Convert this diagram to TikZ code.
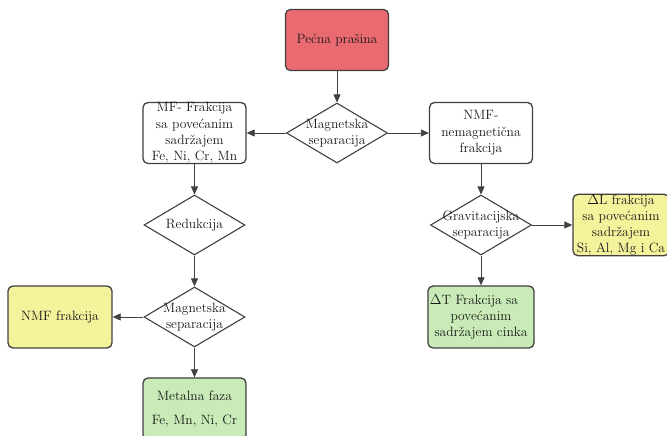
\documentclass[tikz,border=0pt]{standalone}
\usetikzlibrary{
    arrows.meta,
    shapes.geometric % diamond
}

\definecolor{pecred}{HTML}{EA6A71}
\definecolor{fracyellow}{HTML}{F5F29C}
\definecolor{fracgreen}{HTML}{C8EBB8}
\definecolor{edgegray}{HTML}{404040}

\begin{document}
\begin{tikzpicture}[x=1pt, y=1pt,
    every node/.style={font=\rmfamily\fontsize{13.5}{16.3}\selectfont, text=black!90},
    box/.style={draw=edgegray, line width=1.3pt, rounded corners=5pt, fill=white,
        align=center, minimum width=103pt, minimum height=61pt,
        inner xsep=2pt, inner ysep=0pt},
    decision/.style={diamond, draw=edgegray, line width=1.1pt, fill=white,
        aspect=1.7, inner sep=-6pt, minimum width=101pt, minimum height=60pt,
        align=center},
    flow/.style={draw=black!75, line width=0.8pt, -{Triangle[length=8pt,width=7pt]}}
]
    \useasboundingbox (0,0) rectangle (667,436);

    \node[box, fill=pecred] (pec) at (337,396) {Pećna prašina};
    \node[decision] (mag1) at (337,303) {Magnetska\\separacija};
    \node[box] (mf) at (194.5,303) {MF- Frakcija\\sa povećanim\\sadržajem\\Fe, Ni, Cr, Mn};
    \node[box] (nmf) at (481,303) {NMF-\\nemagnetična\\frakcija};

    % lijeva grana
    \node[decision] (red) at (194.5,211) {Redukcija};
    \node[decision] (mag2) at (194.5,119) {Magnetska\\separacija};
    \node[box, fill=fracyellow, minimum width=104pt, minimum height=62pt] (nmff) at (60,119) {NMF frakcija};
    \node[box, fill=fracgreen, minimum height=62pt] (met) at (194.5,27) {Metalna faza\\[7pt]Fe, Mn, Ni, Cr};

    % desna grana
    \node[decision] (grav) at (481,211) {Gravitacijska\\separacija};
    \node[box, fill=fracyellow, minimum width=96pt] (dl) at (621,211) {$\Delta$L frakcija\\sa povećanim\\sadržajem\\Si, Al, Mg i Ca};
    \node[box, fill=fracgreen, minimum width=104pt, minimum height=62pt] (dt) at (481,119) {$\Delta$T Frakcija sa\makebox[14pt]{}\\povećanim\\sadržajem cinka};

    \draw[flow] (pec) -- (mag1);
    \draw[flow] (mag1) -- (mf);
    \draw[flow] (mag1) -- (nmf);
    \draw[flow] (mf) -- (red);
    \draw[flow] (red) -- (mag2);
    \draw[flow] (mag2) -- (nmff);
    \draw[flow] (mag2) -- (met);
    \draw[flow] (nmf) -- (grav);
    \draw[flow] (grav) -- (dl);
    \draw[flow] (grav) -- (dt);
\end{tikzpicture}
\end{document}
